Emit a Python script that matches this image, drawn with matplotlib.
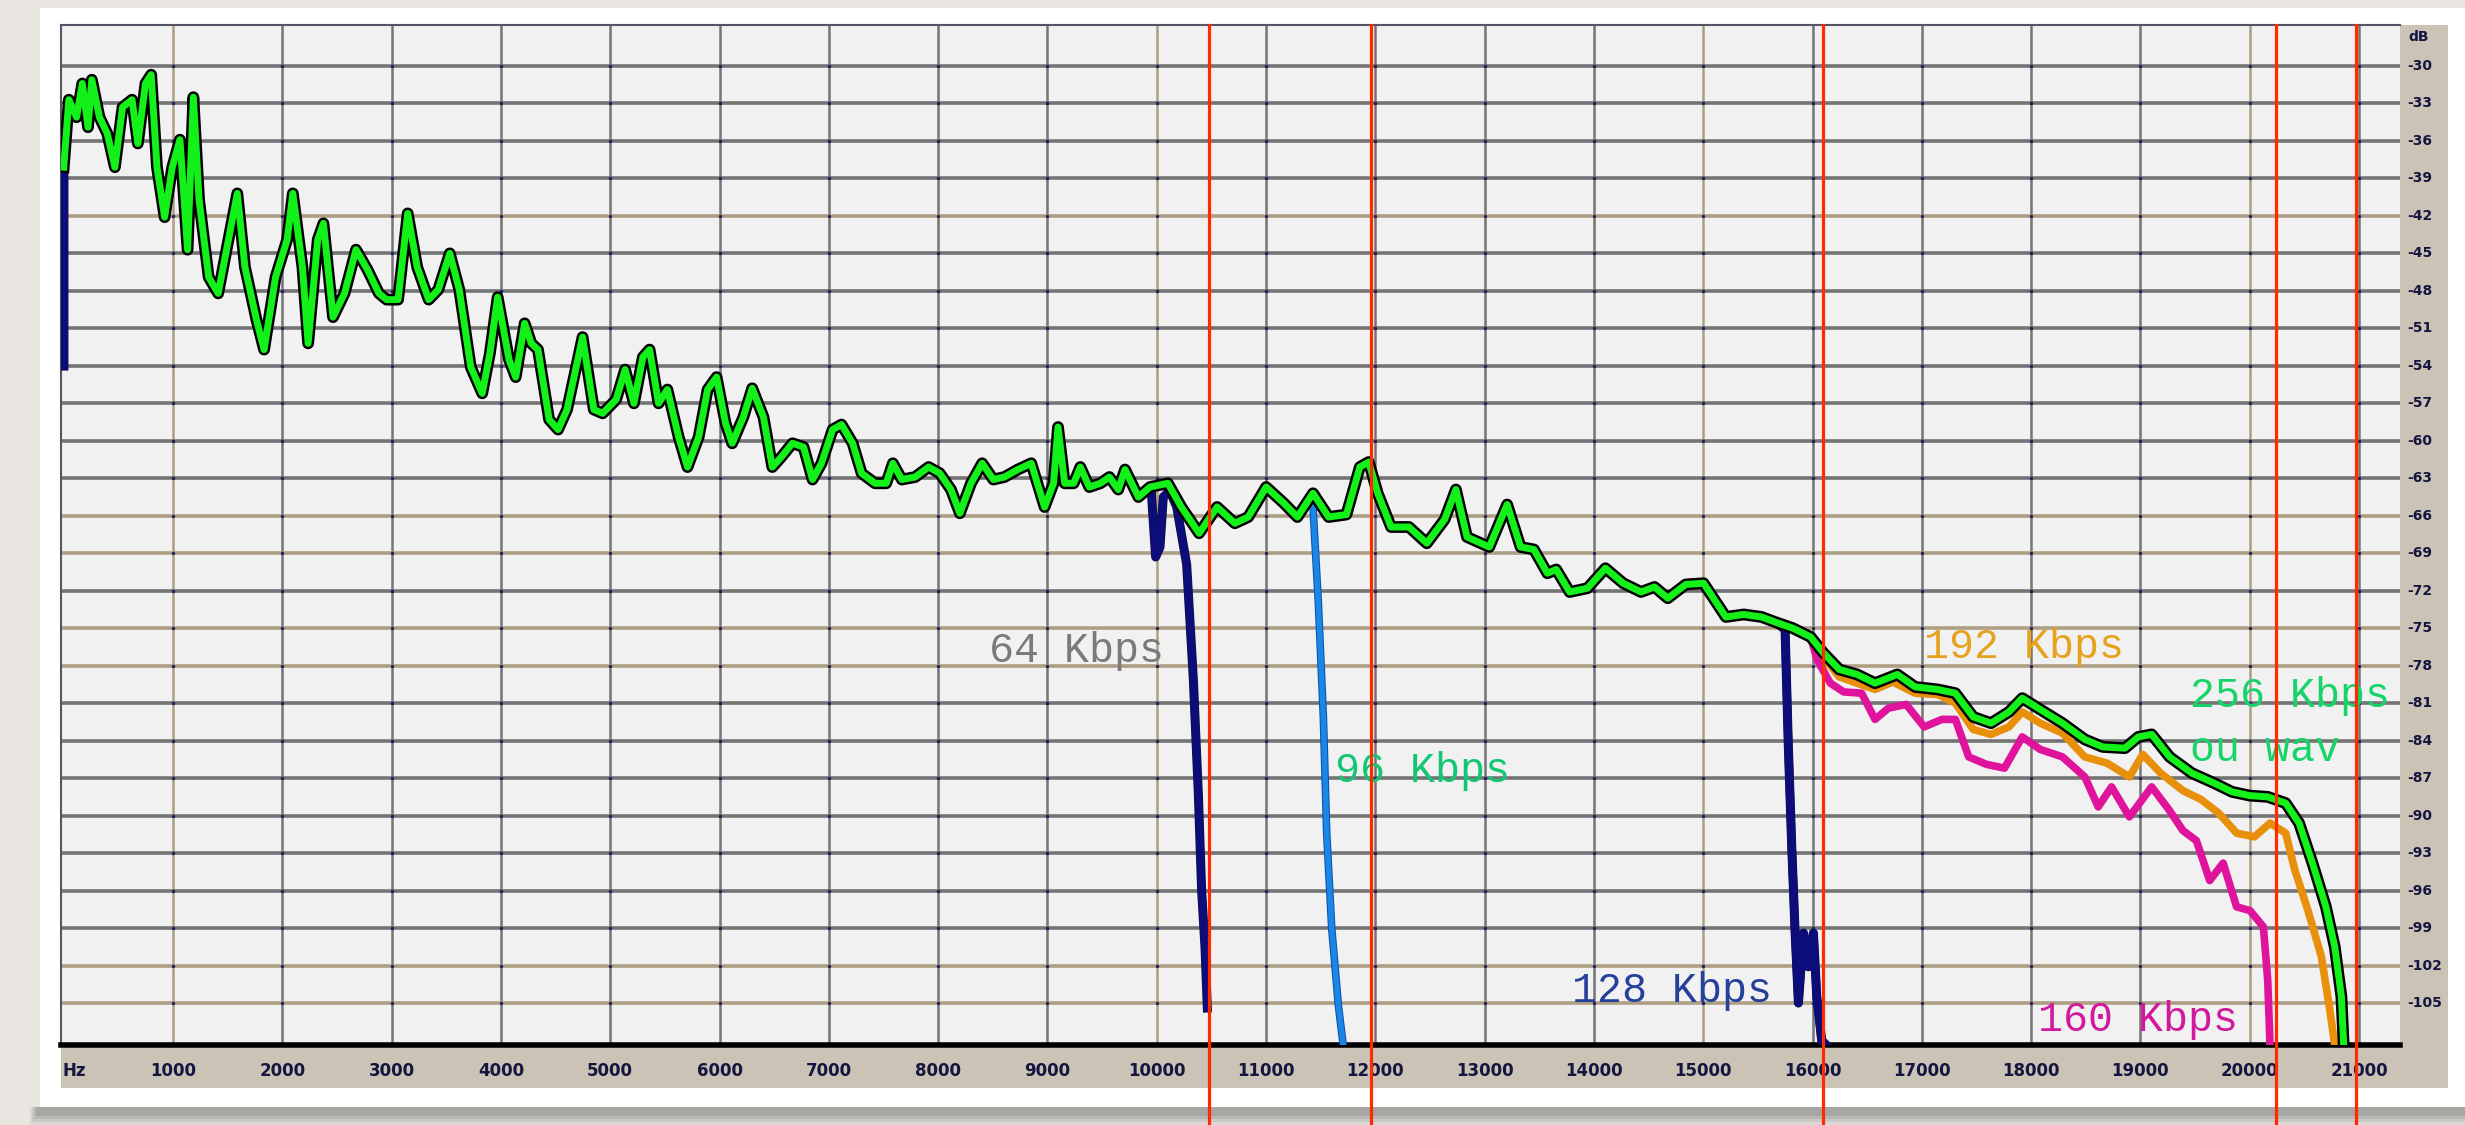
import matplotlib.pyplot as plt
import matplotlib.patheffects as pe
from matplotlib.patches import Rectangle
from matplotlib.transforms import blended_transform_factory

# spectrum shared by every encode (Hz, dB)
base_hz = [0, 47, 117, 170, 222, 257, 327, 398, 468, 538, 625, 678, 748, 800,
           853, 923, 993, 1063, 1133, 1186, 1238, 1326, 1413, 1518, 1588, 1658,
           1763, 1833, 1938, 2044, 2096, 2184, 2236, 2324, 2376, 2464, 2569,
           2674, 2779, 2884, 2954, 3059, 3147, 3234, 3339, 3427, 3532, 3619,
           3724, 3829, 3899, 3970, 4074, 4135, 4217, 4278, 4339, 4441, 4523,
           4605, 4747, 4850, 4931, 5054, 5136, 5217, 5299, 5360, 5442, 5523,
           5626, 5707, 5809, 5891, 5973, 6055, 6116, 6218, 6299, 6402, 6483,
           6565, 6667, 6769, 6851, 6933, 7035, 7116, 7218, 7300, 7423, 7525,
           7586, 7668, 7790, 7913, 8015, 8117, 8199, 8301, 8403, 8505, 8607,
           8729, 8852, 8974, 9056, 9097, 9158, 9240, 9301, 9383, 9485, 9567,
           9648, 9710, 9832, 9939, 10102, 10225, 10388, 10552, 10715, 10837,
           11001, 11164, 11287, 11430, 11573, 11736, 11858, 11940, 12022,
           12144, 12308, 12471, 12634, 12737, 12839, 13043, 13206, 13329,
           13451, 13574, 13655, 13778, 13941, 14105, 14268, 14431, 14554,
           14676, 14840, 15003, 15207, 15370, 15534, 15656, 15820, 15983]
base_db = [-38.1, -32.7, -34.1, -31.4, -34.9, -31.1, -34.1, -35.4, -38.1, -33.3,
           -32.7, -36.2, -31.4, -30.7, -38.1, -42.1, -38.1, -35.9, -44.7, -32.5,
           -40.7, -46.9, -48.2, -43.4, -40.2, -46.1, -50.3, -52.7, -46.9, -43.9,
           -40.2, -46.1, -52.2, -43.9, -42.6, -50.1, -48.2, -44.7, -46.3, -48.2,
           -48.7, -48.7, -41.8, -46.1, -48.7, -47.9, -45.0, -47.9, -54.1, -56.2,
           -53.0, -48.5, -53.5, -54.9, -50.6, -52.2, -52.7, -58.3, -59.1, -57.5,
           -51.7, -57.5, -57.8, -56.7, -54.3, -57.0, -53.3, -52.7, -57.0, -55.9,
           -59.7, -62.1, -59.7, -55.9, -54.9, -58.6, -60.2, -58.1, -55.8, -58.1,
           -62.1, -61.3, -60.2, -60.5, -63.1, -61.8, -59.1, -58.7, -60.2, -62.6,
           -63.4, -63.4, -61.8, -63.1, -62.9, -62.1, -62.6, -63.9, -65.8, -63.4,
           -61.8, -63.1, -62.9, -62.3, -61.8, -65.3, -63.4, -58.9, -63.4, -63.4,
           -62.1, -63.7, -63.4, -62.9, -63.9, -62.3, -64.5, -63.7, -63.4, -65.3,
           -67.4, -65.3, -66.6, -66.1, -63.7, -65.0, -66.1, -64.2, -66.1, -65.9,
           -62.1, -61.7, -64.2, -66.9, -66.9, -68.2, -66.3, -63.9, -67.7, -68.5,
           -65.1, -68.5, -68.7, -70.6, -70.3, -72.1, -71.8, -70.2, -71.4, -72.1,
           -71.7, -72.6, -71.5, -71.4, -74.1, -73.9, -74.1, -74.5, -75.0, -75.7]

# 256 Kbps / wav above 16 kHz
wav_hz = [16102, 16245, 16408, 16572, 16776, 16939, 17143, 17307, 17470, 17633,
          17797, 17919, 18083, 18287, 18491, 18654, 18858, 18981, 19103, 19267,
          19471, 19675, 19839, 20002, 20165, 20329, 20452, 20574, 20697, 20778,
          20839, 20860]
wav_db = [-77.0, -78.3, -78.7, -79.4, -78.7, -79.7, -79.9, -80.2, -82.1, -82.6,
          -81.7, -80.6, -81.5, -82.6, -83.9, -84.5, -84.6, -83.7, -83.5, -85.3,
          -86.6, -87.4, -88.1, -88.4, -88.5, -89.0, -90.6, -93.8, -97.3, -100.5,
          -104.5, -108.4]

k192_hz = [16102, 16245, 16408, 16572, 16735, 16939, 17143, 17307, 17470, 17633,
           17797, 17919, 18083, 18287, 18491, 18695, 18899, 19022, 19185, 19389,
           19553, 19716, 19880, 20043, 20186, 20329, 20411, 20533, 20656, 20737,
           20778]
k192_db = [-77.3, -78.9, -79.4, -79.9, -79.3, -80.2, -80.3, -81.0, -83.1, -83.5,
           -82.9, -81.7, -82.6, -83.4, -85.3, -85.8, -86.9, -85.1, -86.6, -88.0,
           -88.7, -89.8, -91.4, -91.7, -90.6, -91.4, -94.3, -97.6, -101.3, -105.8,
           -108.4]

k160_hz = [16041, 16163, 16286, 16449, 16572, 16694, 16857, 17021, 17184, 17307,
           17429, 17592, 17756, 17919, 18083, 18287, 18491, 18614, 18736, 18899,
           19103, 19267, 19389, 19512, 19634, 19757, 19880, 20002, 20125, 20165,
           20186]
k160_db = [-77.5, -79.4, -80.1, -80.2, -82.3, -81.4, -81.1, -82.9, -82.3, -82.3,
           -85.3, -85.9, -86.2, -83.7, -84.7, -85.3, -86.9, -89.3, -87.7, -90.1,
           -87.7, -89.6, -91.2, -92.0, -95.2, -93.8, -97.3, -97.6, -98.9, -103.2,
           -108.4]

k128_hz = [15749, 15779, 15810, 15840, 15871, 15917, 15962, 16008, 16039, 16084,
           16130]
k128_db = [-75.1, -84.5, -92.5, -99.2, -105.0, -99.4, -102.1, -99.4, -104.5,
           -108.0, -108.4]

k96_hz = [11433, 11479, 11525, 11555, 11601, 11662, 11708]
k96_db = [-65.8, -73.0, -82.2, -91.4, -99.0, -105.2, -108.5]

k64_hz = [9950, 9990, 10030, 10060, 10120, 10183, 10274, 10335, 10381, 10411,
          10442, 10463]
k64_db = [-64.0, -69.3, -68.5, -64.5, -64.0, -65.3, -69.9, -79.1, -88.3, -96.0,
          -100.6, -105.4]

# low-rate encodes start much deeper at DC
lead_hz = [0]
lead_db = [-54.0]

x_ticks = list(range(1000, 22000, 1000))
db_ticks = list(range(-30, -106, -3))
tan_hz = [1000, 10000, 15000, 20000]
tan_db = [-42, -66, -69, -75, -78, -102, -105]

cutoff_hz = [10480, 11960, 16100, 20240, 20970]


def encode(tail_hz, tail_db, lead=False):
    n = sum(1 for f in base_hz if f < tail_hz[0])
    hz = base_hz[:n] + tail_hz
    db = base_db[:n] + tail_db
    if lead:
        hz = lead_hz + hz
        db = lead_db + db
    return hz, db


W, H = 2465, 1125
fig = plt.figure(figsize=(W / 100, H / 100), dpi=100)
fig.patch.set_facecolor('#e9e6e2')


def box(x0, y0, x1, y1, **kw):
    # rectangle in pixel units, measured from the top-left corner
    fig.patches.append(Rectangle((x0 / W, 1 - y1 / H), (x1 - x0) / W, (y1 - y0) / H,
                                 transform=fig.transFigure, edgecolor='none',
                                 zorder=-5, **kw))


# drop shadow and white card
for i, a in enumerate([0.10, 0.14, 0.18, 0.22]):
    box(30 + i * 2, 1107, W, 1125 - i * 3, facecolor='#6a6a6a', alpha=a)
box(40, 8, W, 1107, facecolor='white')
# scale strips
box(61, 1045, 2400, 1088, facecolor='#cbc4b6')
box(2400, 25, 2448, 1088, facecolor='#cbc4b6')

ax = fig.add_axes([61 / W, 1 - 1045 / H, (2400 - 61) / W, (1045 - 25) / H])
ax.set_zorder(1)
ax.set_facecolor('#f1f1f1')
ax.set_xlim(-25, 21375)
ax.set_ylim(-108.36, -26.72)
ax.set_xticks([])
ax.set_yticks([])
for side in ['left', 'top']:
    ax.spines[side].set_color('#555566')
    ax.spines[side].set_linewidth(1.5)
ax.spines['right'].set_visible(False)
ax.spines['bottom'].set_color('black')
ax.spines['bottom'].set_linewidth(4)

for f in x_ticks:
    ax.axvline(f, color='#ae9f84' if f in tan_hz else '#747474', lw=1.8, zorder=1)
for d in db_ticks:
    ax.axhline(d, color='#ae9f84' if d in tan_db else '#747474', lw=2.6, zorder=1)
gx = [f for f in x_ticks for d in db_ticks]
gy = [d for f in x_ticks for d in db_ticks]
ax.scatter(gx, gy, s=6, color='#20205a', zorder=1.5, linewidths=0)

stroke = [pe.withStroke(linewidth=8.5, foreground='black')]
thin = [pe.withStroke(linewidth=6.5, foreground='#101040')]

hz, db = encode(k64_hz, k64_db, lead=True)
ax.plot(hz, db, color='#0c0c7a', lw=5.5, zorder=3, path_effects=thin)
hz, db = encode(k128_hz, k128_db, lead=True)
ax.plot(hz, db, color='#0c0c7a', lw=6, zorder=3, path_effects=thin)
hz, db = encode(k96_hz, k96_db)
ax.plot(hz, db, color='#1a86e6', lw=4.0, zorder=3.5,
        path_effects=[pe.withStroke(linewidth=5.5, foreground='#1050b0')])
hz, db = encode(k160_hz, k160_db)
ax.plot(hz, db, color='#e0149c', lw=5.5, zorder=4)
hz, db = encode(k192_hz, k192_db)
ax.plot(hz, db, color='#e8900c', lw=5.5, zorder=5)
hz, db = encode(wav_hz, wav_db)
ax.plot(hz, db, color='#14f01a', lw=5.0, zorder=6, path_effects=stroke)

mono = 'Liberation Mono'
lab = dict(fontsize=30, family=mono, zorder=7)
ax.text(8466, -77.7, '64 Kbps', color='#7a7a7a', **lab)
ax.text(11630, -87.3, '96 Kbps', color='#12c673', **lab)
ax.text(13800, -104.9, '128 Kbps', color='#24409a', **lab)
ax.text(17020, -77.4, '192 Kbps', color='#e6a21c', **lab)
ax.text(19450, -81.3, '256 Kbps', color='#16d468', **lab)
ax.text(19450, -85.6, 'ou wav', color='#16d468', **lab)
ax.text(18060, -107.2, '160 Kbps', color='#d2189c', **lab)

# scale labels
tick_font = dict(family=['Liberation Sans Narrow', 'DejaVu Sans'], weight='bold',
                 color='#151540')
xt = blended_transform_factory(ax.transData, fig.transFigure)
fig.text(74 / W, 1 - 1071 / H, 'Hz', ha='center', va='center', fontsize=12, **tick_font)
for f in x_ticks:
    ax.text(f, 1 - 1071 / H, str(f), transform=xt, ha='center', va='center',
            fontsize=12, clip_on=False, **tick_font)
yt = blended_transform_factory(fig.transFigure, ax.transData)
fig.text(2408 / W, 1 - 37 / H, 'dB', ha='left', va='center', fontsize=10, **tick_font)
for d in db_ticks:
    ax.text(2407 / W, d, str(d), transform=yt, ha='left', va='center',
            fontsize=10, clip_on=False, **tick_font)

# cutoff markers running off the bottom of the card
for f in cutoff_hz:
    ax.plot([f, f], [0, 1 - 25 / H], transform=xt, color='#ff2a00', lw=2.3,
            clip_on=False, zorder=20)

fig.savefig('out.png', dpi=100, facecolor=fig.get_facecolor())
